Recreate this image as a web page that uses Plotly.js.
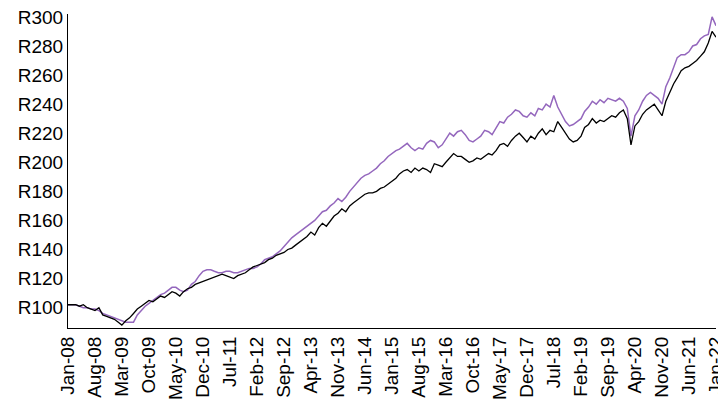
<!DOCTYPE html>
<html>
<head>
<meta charset="utf-8">
<script src="https://cdn.plot.ly/plotly-3.0.1.min.js"></script>
<style>body{margin:0;background:#fff}#chart{width:718px;height:404px}</style>
</head>
<body>
<div id="chart"></div>
<script>
// Monthly index values, Jan-08 .. Jan-22
const blackSeries = [
  102,102,102,101,102,100,99,98,100,95,94,93,
  92,90,88,91,93,96,99,101,103,105,104,106,
  108,107,109,111,110,108,111,113,114,116,117,118,
  119,120,121,122,123,122,121,120,122,123,124,126,
  128,129,130,131,133,134,136,137,138,140,141,143,
  145,147,149,152,150,155,158,156,160,163,165,168,
  166,170,172,174,176,178,179,179,180,182,183,185,
  187,189,192,194,195,193,196,194,196,195,193,199,
  198,197,200,203,206,204,204,202,200,201,203,202,
  204,206,205,208,212,213,211,215,218,220,217,214,
  218,216,220,223,219,222,221,228,224,220,216,214,
  215,218,224,226,230,227,229,228,230,232,231,234,
  236,230,212,225,228,233,236,238,240,236,232,242,
  248,254,258,263,265,266,268,270,273,276,282,290,
  286
];
const purpleSeries = [
  102,102,102,101,100,100,99,99,98,96,95,94,
  93,92,91,90,90,90,95,98,101,103,105,107,
  109,110,112,114,114,112,111,112,116,118,122,125,
  126,126,125,124,124,125,125,124,124,125,126,127,
  127,128,130,133,134,135,137,139,142,145,148,150,
  152,154,156,158,160,163,166,167,170,172,175,173,
  176,180,183,186,189,191,192,194,196,199,201,204,
  206,208,209,211,213,210,208,210,209,213,215,214,
  210,212,216,220,218,221,222,219,215,214,216,218,
  222,221,219,224,228,227,231,233,236,235,232,231,
  234,232,237,236,240,238,246,238,233,228,225,226,
  228,230,235,238,242,240,243,241,244,243,242,244,
  242,237,218,232,236,242,246,248,246,244,240,252,
  258,266,272,274,274,276,280,281,285,287,288,300,
  294
];
const months = blackSeries.map((_, i) => {
  const y = 2008 + Math.floor(i / 12), m = (i % 12) + 1;
  return `${y}-${String(m).padStart(2, '0')}-01`;
});
const tickMonths = months.filter((_, i) => i % 7 === 0);

const data = [
  {x: months, y: purpleSeries, type: 'scatter', mode: 'lines', line: {color: '#9467bd', width: 1.5}},
  {x: months, y: blackSeries, type: 'scatter', mode: 'lines', line: {color: '#000000', width: 1.3}}
];

const layout = {
  width: 718, height: 404,
  margin: {l: 68, r: 2, t: 14, b: 76},
  showlegend: false,
  paper_bgcolor: '#fff', plot_bgcolor: '#fff',
  font: {family: 'Liberation Sans, Arial, sans-serif', color: '#000'},
  xaxis: {
    type: 'date', range: ['2008-01-01', '2022-01-01'],
    tickmode: 'array', tickvals: tickMonths, tickformat: '%b-%y', tickangle: -90,
    showgrid: false, zeroline: false, showline: true, linecolor: '#000', linewidth: 1,
    ticks: '', tickfont: {size: 19}, automargin: false, ticklabeloverflow: 'allow'
  },
  yaxis: {
    range: [86, 302], tick0: 100, dtick: 20, tickprefix: 'R',
    showgrid: false, zeroline: false, showline: true, linecolor: '#000', linewidth: 1,
    ticks: '', tickfont: {size: 19}
  }
};

Plotly.newPlot('chart', data, layout, {displayModeBar: false});
</script>
</body>
</html>
